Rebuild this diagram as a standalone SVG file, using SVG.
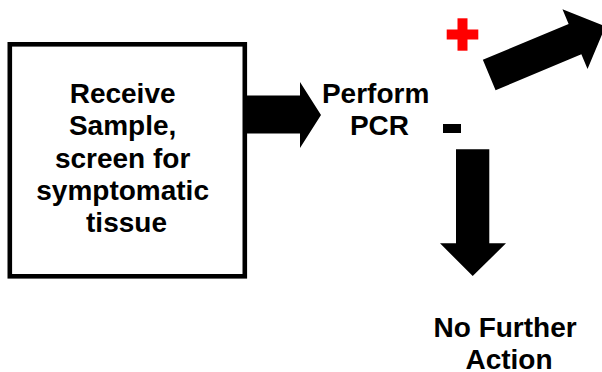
<svg xmlns="http://www.w3.org/2000/svg" width="602" height="372" viewBox="0 0 602 372">
  <style>
    .label { font-family: "Liberation Sans", Arial, sans-serif; font-weight: bold; font-size: 28px; fill: #000; text-anchor: middle; }
    .box { fill: #fff; stroke: #000; stroke-width: 4.6; }
    .arrow { fill: #000; }
  </style>
  <rect width="602" height="372" fill="#fff"/>

  <!-- Step 1: sample intake -->
  <g id="receive-sample">
    <rect class="box" x="9.8" y="44.3" width="235" height="232"/>
    <text class="label">
      <tspan x="126.5" y="103.3">Receive</tspan>
      <tspan x="126.5" y="135.4">Sample,</tspan>
      <tspan x="126.5" y="167.5">screen for</tspan>
      <tspan x="126.5" y="199.6">symptomatic</tspan>
      <tspan x="126.5" y="231.7">tissue</tspan>
    </text>
  </g>

  <!-- Step 2: PCR test -->
  <g id="perform-pcr">
    <text class="label">
      <tspan x="379.5" y="103.3">Perform</tspan>
      <tspan x="379.5" y="135.4">PCR</tspan>
    </text>
  </g>

  <!-- Positive result marker -->
  <g id="positive">
    <rect x="457.5" y="18.3" width="10" height="32.4" fill="#ff0000"/>
    <rect x="446.7" y="29.5" width="31.6" height="10" fill="#ff0000"/>
  </g>

  <!-- Negative result marker -->
  <g id="negative">
    <rect x="443" y="124" width="18" height="9" fill="#000"/>
  </g>

  <!-- Outcome of a negative result -->
  <g id="no-further-action">
    <text class="label">
      <tspan x="509" y="336.7">No Further</tspan>
      <tspan x="509" y="368.5">Action</tspan>
    </text>
  </g>

  <!-- Block arrows -->
  <g id="connectors">
    <path class="arrow" d="M247,95.5 L300,95.5 L300,82 L321,115 L300,148 L300,133.5 L247,133.5 Z"/>
    <path class="arrow" transform="translate(489.2,75) rotate(-22.7)" d="M0,-16.5 L93,-16.5 L93,-32.5 L126,0 L93,32.5 L93,16.5 L0,16.5 Z"/>
    <path class="arrow" d="M456,149.3 L489.3,149.3 L489.3,243.3 L506,243.3 L472.7,276 L440,243.3 L456,243.3 Z"/>
  </g>
</svg>
